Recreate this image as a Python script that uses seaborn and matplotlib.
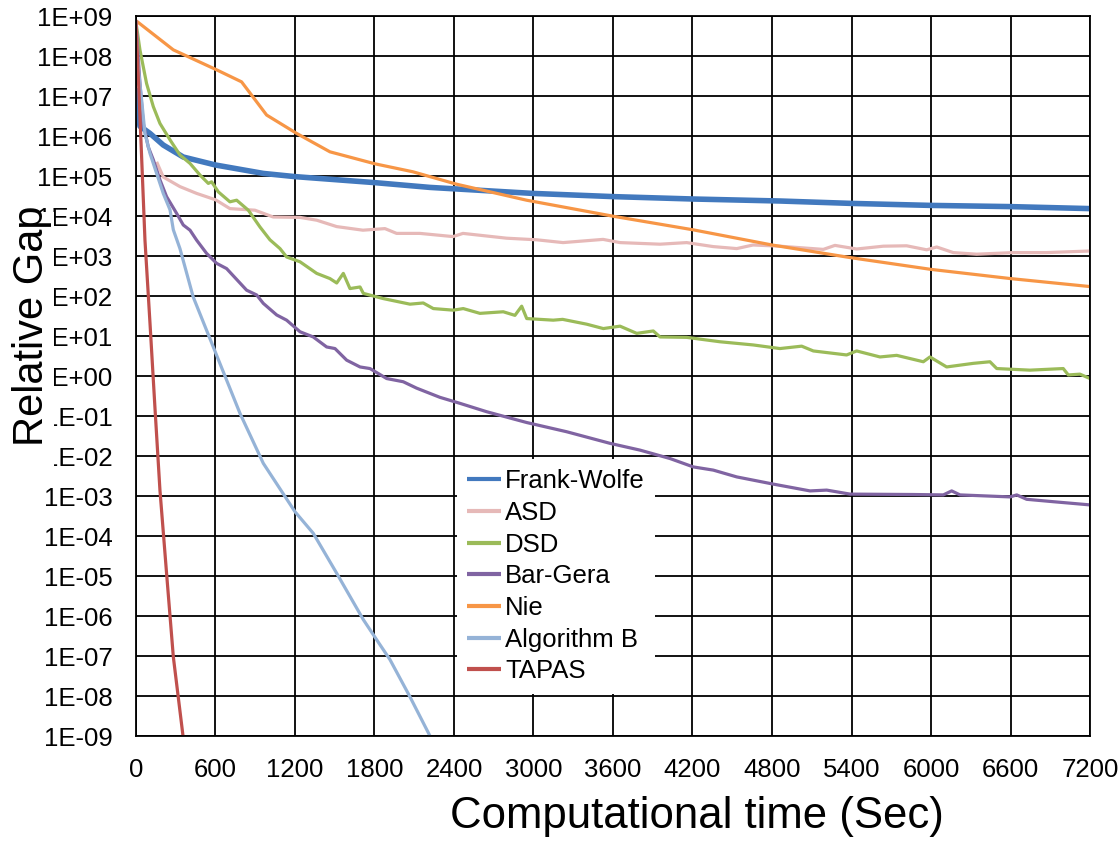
import numpy as np
import pandas as pd
import matplotlib
matplotlib.use("Agg")
import matplotlib.pyplot as plt
import seaborn as sns
from matplotlib.patches import Rectangle
from matplotlib.ticker import NullLocator

sns.set_style("white")
plt.rcParams["font.family"] = ["Liberation Sans", "DejaVu Sans"]
plt.rcParams["text.color"] = "black"
plt.rcParams["axes.labelcolor"] = "black"

# series: time (sec) and log10(relative gap)
methods = ["Frank-Wolfe", "ASD", "DSD", "Bar-Gera", "Nie", "Algorithm B", "TAPAS"]
colors = ["#4279BE", "#E6B9B8", "#9BBB59", "#8064A2", "#F79646", "#95B3D7", "#C0504D"]

fw_t = [0, 30, 106, 206, 357, 601, 961, 1200, 1801, 2219, 2996, 3600, 4204, 4860, 5401, 6000, 6600, 7200]
fw_log = [7.2, 6.25, 6.07, 5.78, 5.48, 5.28, 5.07, 4.99, 4.84, 4.72, 4.57, 4.49, 4.43, 4.38, 4.32, 4.27, 4.24, 4.19]

asd_t = [156, 206, 332, 458, 601, 709, 898, 1036, 1238, 1364, 1515, 1713, 1879, 1967, 2143, 2393, 2468, 2797, 3024, 3223,
         3525, 3653, 3955, 4156, 4356, 4534, 4657, 4860, 5187, 5275, 5439, 5640, 5816, 5967, 6043, 6168, 6344, 6621, 6873, 7200]
asd_log = [5.36, 4.98, 4.74, 4.57, 4.41, 4.19, 4.15, 3.98, 3.97, 3.90, 3.74, 3.65, 3.69, 3.57, 3.57, 3.49, 3.57, 3.45, 3.41, 3.34,
           3.42, 3.34, 3.30, 3.34, 3.24, 3.19, 3.28, 3.25, 3.17, 3.27, 3.18, 3.25, 3.26, 3.16, 3.23, 3.09, 3.05, 3.09, 3.09, 3.13]

dsd_t = [0, 30, 80, 131, 181, 257, 332, 408, 483, 546, 571, 621, 709, 760, 848, 936, 1011, 1087, 1137, 1238,
         1364, 1464, 1515, 1565, 1615, 1691, 1716, 1866, 2068, 2168, 2244, 2395, 2470, 2596, 2772, 2860, 2911, 2949, 3149, 3220,
         3401, 3527, 3653, 3779, 3904, 3955, 4156, 4407, 4659, 4860, 5024, 5112, 5363, 5439, 5615, 5741, 5942, 5992, 6118, 6319,
         6445, 6496, 6747, 6998, 7036, 7124, 7200]
dsd_log = [8.85, 8.16, 7.32, 6.74, 6.32, 5.91, 5.53, 5.32, 5.03, 4.82, 4.86, 4.61, 4.36, 4.40, 4.15, 3.73, 3.41, 3.19, 2.98, 2.86,
           2.57, 2.44, 2.33, 2.57, 2.19, 2.23, 2.07, 1.94, 1.80, 1.83, 1.69, 1.65, 1.69, 1.57, 1.61, 1.52, 1.75, 1.44, 1.40, 1.42,
           1.30, 1.19, 1.25, 1.07, 1.13, 0.98, 0.97, 0.86, 0.78, 0.69, 0.75, 0.63, 0.53, 0.63, 0.48, 0.52, 0.36, 0.48, 0.23, 0.32,
           0.36, 0.19, 0.15, 0.19, 0.03, 0.05, -0.06]

bg_t = [0, 30, 55, 93, 131, 181, 231, 307, 357, 408, 458, 533, 609, 684, 835, 911, 961, 1062, 1137, 1238,
        1338, 1439, 1502, 1590, 1691, 1766, 1892, 2017, 2118, 2294, 2445, 2647, 2949, 3250, 3577, 3804, 4030, 4206, 4357, 4534,
        4810, 5087, 5213, 5389, 5866, 6093, 6156, 6219, 6596, 6647, 6722, 6923, 7200]
bg_log = [8.85, 7.32, 6.32, 5.73, 5.41, 4.91, 4.49, 4.07, 3.78, 3.65, 3.40, 3.07, 2.82, 2.69, 2.15, 2.03, 1.82, 1.53, 1.40, 1.11,
          0.98, 0.73, 0.69, 0.40, 0.23, 0.19, -0.06, -0.14, -0.30, -0.53, -0.68, -0.89, -1.16, -1.39, -1.68, -1.85, -2.06, -2.27, -2.35, -2.52,
          -2.70, -2.87, -2.85, -2.95, -2.96, -2.97, -2.87, -2.97, -3.02, -2.97, -3.08, -3.14, -3.22]

nie_t = [0, 282, 609, 797, 986, 1213, 1464, 1804, 2091, 2420, 2948, 3600, 4204, 4800, 5400, 6000, 6600, 7200]
nie_log = [8.89, 8.16, 7.66, 7.36, 6.53, 6.07, 5.61, 5.31, 5.11, 4.80, 4.40, 4.00, 3.66, 3.28, 2.96, 2.67, 2.44, 2.24]

ab_t = [0, 17, 43, 68, 106, 156, 206, 257, 282, 332, 432, 609, 785, 961, 1200, 1338, 1515, 1716, 1816, 1917, 2068, 2219]
ab_log = [8.9, 7.73, 6.9, 6.07, 5.57, 5.07, 4.57, 4.16, 3.66, 3.19, 1.98, 0.52, -0.93, -2.18, -3.39, -3.93, -4.93, -6.09, -6.59, -7.09, -8.02, -9.0]

tapas_t = [0, 40, 68, 106, 143, 181, 231, 282, 357]
tapas_log = [8.9, 5.7, 3.4, 1.32, -0.77, -2.85, -4.93, -7.02, -9.05]

x_ticks = [0, 600, 1200, 1800, 2400, 3000, 3600, 4200, 4800, 5400, 6000, 6600, 7200]
y_exponents = [-9, -8, -7, -6, -5, -4, -3, -2, -1, 0, 1, 2, 3, 4, 5, 6, 7, 8, 9]
y_tick_labels = ["1E-09", "1E-08", "1E-07", "1E-06", "1E-05", "1E-04", "1E-03", "1E-02", "1E-01", "1E+00",
                 "1E+01", "1E+02", "1E+03", "1E+04", "1E+05", "1E+06", "1E+07", "1E+08", "1E+09"]

series = [(fw_t, fw_log), (asd_t, asd_log), (dsd_t, dsd_log), (bg_t, bg_log),
          (nie_t, nie_log), (ab_t, ab_log), (tapas_t, tapas_log)]

fig = plt.figure(figsize=(11.19, 8.43), dpi=100)
ax = fig.add_axes([0.1215, 0.1269, 0.8526, 0.8538])

for name, color, (t, lg) in zip(methods, colors, series):
    df = pd.DataFrame({"time": t, "gap": 10.0 ** np.array(lg)})
    lw = 4.0 if name == "Frank-Wolfe" else 2.3
    sns.lineplot(data=df, x="time", y="gap", ax=ax, color=color, linewidth=lw,
                 estimator=None, sort=False, legend=False)

ax.set_yscale("log")
ax.set_xlim(0, 7200)
ax.set_ylim(1e-9, 1e9)
ax.set_xticks(x_ticks)
ax.set_xticklabels([str(v) for v in x_ticks])
ax.set_yticks([10.0 ** e for e in y_exponents])
ax.set_yticklabels(y_tick_labels)
ax.yaxis.set_minor_locator(NullLocator())
ax.tick_params(axis="both", length=0, labelsize=18.5, colors="black")
ax.tick_params(axis="y", pad=17)
ax.tick_params(axis="x", pad=16)

ax.grid(True, which="major", color="black", linewidth=1.3)
ax.set_axisbelow(True)
for s in ax.spines.values():
    s.set_color("black")
    s.set_linewidth(1.3)

ax.set_xlabel("Computational time (Sec)", fontsize=31.5, color="black")
ax.xaxis.set_label_coords(0.588, -0.083)
ax.set_ylabel("")

# the axis title sits on a white box that hides the leading "1" of some tick labels
ax.add_patch(Rectangle((0.007, 0.4448), 0.0416, 0.3037, transform=fig.transFigure,
                       facecolor="white", edgecolor="none", clip_on=False, zorder=1))
ax.text(-0.088, 0.57, "Relative Gap", transform=ax.transAxes, rotation=90,
        ha="right", va="center", fontsize=30, color="black", zorder=3, clip_on=False)

handles = ax.get_lines()
for h in handles:
    h.set_solid_capstyle("butt")
leg = ax.legend(handles, methods, loc="upper left", bbox_to_anchor=(0.336, 0.385),
                frameon=True, fancybox=False, framealpha=1, edgecolor="none",
                fontsize=18.5, handlelength=1.35, handletextpad=0.15,
                labelspacing=0.3, borderpad=0.4, borderaxespad=0)
for lh in leg.get_lines():
    lh.set_linewidth(3)
for txt in leg.get_texts():
    txt.set_color("black")

fig.savefig("out.png", dpi=100)
